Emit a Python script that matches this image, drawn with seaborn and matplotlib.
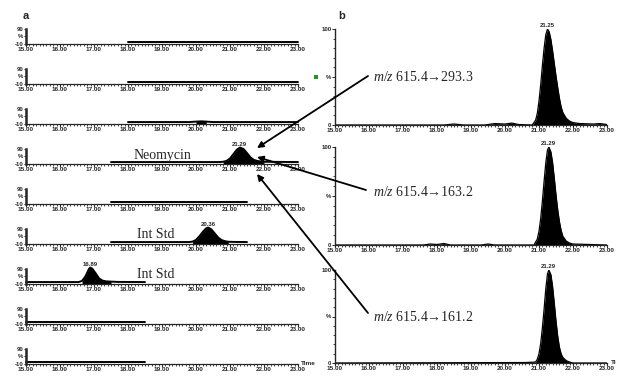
import numpy as np
import pandas as pd
import matplotlib
matplotlib.use('Agg')
import matplotlib.pyplot as plt
import seaborn as sns
from matplotlib.patches import FancyArrowPatch, Rectangle
from matplotlib.ticker import MultipleLocator

sns.set_style('ticks')
plt.rcParams['font.family'] = ['Liberation Sans', 'DejaVu Sans']
plt.rcParams['mathtext.fontset'] = 'custom'
plt.rcParams['mathtext.rm'] = 'Liberation Serif'
plt.rcParams['mathtext.it'] = 'Liberation Serif:italic'

SERIF = ['Liberation Serif', 'DejaVu Serif']

# --- data ---
x_ticks = [15, 16, 17, 18, 19, 20, 21, 22, 23]

# panel a: acquisition window of each of the 9 traces (min)
left_start = [18.0, 18.0, 18.0, 17.5, 17.5, 17.5, 15.0, 15.0, 15.0]
left_end = [23.0, 23.0, 23.0, 23.0, 21.5, 21.5, 18.5, 18.5, 18.5]

bump_t = [19.8, 20.0, 20.15, 20.3, 20.5]
bump_y = [0, 3, 5, 3, 0]

neo_t = [20.70, 20.80, 20.90, 21.00, 21.10, 21.20, 21.29, 21.40, 21.50, 21.60, 21.70, 21.80, 21.90, 22.00]
neo_y = [0, 2, 8, 25, 55, 85, 100, 90, 62, 33, 15, 8, 4, 2]

istd1_t = [19.80, 19.90, 20.00, 20.10, 20.20, 20.30, 20.36, 20.45, 20.55, 20.65, 20.75, 20.85, 20.95, 21.10]
istd1_y = [0, 3, 15, 40, 70, 95, 100, 88, 60, 32, 14, 6, 2, 1]

istd2_t = [16.55, 16.65, 16.75, 16.85, 16.89, 16.95, 17.05, 17.15, 17.25, 17.35, 17.50, 17.70]
istd2_y = [0, 8, 40, 90, 100, 92, 60, 25, 10, 5, 3, 1]

left_peaks = {2: (bump_t, bump_y, None), 3: (neo_t, neo_y, '21.29'),
              5: (istd1_t, istd1_y, '20.36'), 6: (istd2_t, istd2_y, '16.89')}
left_names = {3: 'Neomycin', 5: 'Int Std', 6: 'Int Std'}

# panel b: three transitions
b1_t = [15.0, 18.2, 18.5, 18.8, 19.4, 19.7, 20.0, 20.2, 20.4, 20.80, 20.90, 20.95, 21.00, 21.05, 21.10,
        21.15, 21.20, 21.25, 21.30, 21.35, 21.40, 21.45, 21.50, 21.55, 21.60, 21.65, 21.70, 21.80,
        21.90, 22.00, 22.20, 22.6, 22.8, 23.0]
b1_y = [0, 0, 1, 0, 0, 1.5, 1, 2, 0.5, 0, 5, 12, 25, 42, 62, 80, 94, 100, 97, 89, 77, 64, 51, 39,
        28, 19, 13, 7, 4, 2.5, 1.5, 1, 1.5, 0.5]
b2_t = [15.0, 17.6, 17.8, 18.0, 18.2, 18.4, 19.3, 19.5, 19.7, 20.85, 20.95, 21.00, 21.05, 21.10,
        21.15, 21.20, 21.25, 21.29, 21.35, 21.40, 21.45, 21.50, 21.55, 21.60, 21.65, 21.70, 21.80,
        21.90, 22.00, 22.5, 23.0]
b2_y = [0, 0, 1, 0.5, 1.5, 0, 0, 1, 0, 0, 6, 14, 27, 45, 65, 84, 97, 100, 95, 84, 68, 51, 36, 24,
        15, 9, 4, 2, 1, 0.5, 0]
b3_t = [15.0, 20.6, 20.90, 20.95, 21.00, 21.05, 21.10, 21.15, 21.20, 21.25, 21.29, 21.35, 21.40,
        21.45, 21.50, 21.55, 21.60, 21.65, 21.70, 21.80, 21.90, 22.00, 23.0]
b3_y = [0, 0.5, 1, 4, 10, 21, 38, 58, 80, 96, 100, 95, 82, 64, 45, 29, 17, 10, 6, 2.5, 1, 0, 0]

right_traces = [(b1_t, b1_y, '21.25', r'$\mathit{m/z}$ 615.4→293.3'),
                (b2_t, b2_y, '21.29', r'$\mathit{m/z}$ 615.4→163.2'),
                (b3_t, b3_y, '21.29', r'$\mathit{m/z}$ 615.4→161.2')]

# --- layout in pixels ---
W, H = 618, 377
fig = plt.figure(figsize=(W / 100, H / 100), dpi=100)


def add_ax(left, top, right, bottom):
    return fig.add_axes([left / W, 1 - bottom / H, (right - left) / W, (bottom - top) / H])


def fx(x):
    return x / W


def fy(y):
    return 1 - y / H


def style_x(ax):
    ax.set_xlim(15, 23)
    ax.set_xticks(x_ticks)
    ax.set_xticklabels([f'{v:.2f}' for v in x_ticks], fontsize=4.6, fontweight='bold')
    ax.xaxis.set_minor_locator(MultipleLocator(0.1))
    ax.tick_params(axis='x', which='major', length=2.2, width=0.8, pad=0.3)
    ax.tick_params(axis='x', which='minor', length=1.4, width=0.6)
    for s in ['top', 'right']:
        ax.spines[s].set_visible(False)
    ax.spines['bottom'].set_linewidth(0.9)
    ax.set_facecolor('none')


# panel a
for i in range(9):
    base = 43.5 + 40 * i
    ax = add_ax(26, base - 14.5, 298, base)
    ax.set_ylim(-10, 90)
    style_x(ax)
    ax.set_yticks([-10, 40, 90])
    ax.set_yticklabels(['-10', '%', '90'], fontsize=4.3, fontweight='bold')
    ax.tick_params(axis='y', length=1.5, width=0.7, pad=0.3)
    ax.spines['left'].set_linewidth(1.8)
    t = [left_start[i], left_end[i]]
    y = [0, 0]
    lab = None
    if i in left_peaks:
        pt, py, lab = left_peaks[i]
        t = t + pt
        y = y + py
    df = pd.DataFrame({'t': t, 'y': y}).sort_values('t')
    df = df[(df.t >= left_start[i]) & (df.t <= left_end[i])]
    ax.fill_between(df.t, -10 + 0 * df.y, df.y, where=df.y > 1, color='black', lw=0, clip_on=False)
    sns.lineplot(data=df, x='t', y='y', ax=ax, color='black', lw=1.4, sort=False,
                 estimator=None, clip_on=False)
    ax.set_xlabel('')
    ax.set_ylabel('')
    if lab:
        pk = df.loc[df.y.idxmax()]
        ax.text(pk.t, pk.y + 3, lab, fontsize=4.3, fontweight='bold', ha='center', va='bottom')
    if i == 8:
        ax.text(23.1, -10, 'Time', fontsize=4.6, fontweight='bold', ha='left', va='center', clip_on=False)

for i, name in left_names.items():
    base = 43.5 + 40 * i
    xpos = 134 if name == 'Neomycin' else 137
    fig.text(fx(xpos), fy(base - 8.5), name, fontsize=10, family=SERIF, ha='left', va='center')

# panel b
right_boxes = [(29, 125), (147, 245), (270, 363)]
for (top, bottom), (t, y, lab, mz) in zip(right_boxes, right_traces):
    ax = add_ax(335, top, 607, bottom)
    ax.set_ylim(0, 100)
    style_x(ax)
    ax.set_yticks([0, 50, 100])
    ax.set_yticklabels(['0', '%', '100'], fontsize=4.3, fontweight='bold')
    ax.yaxis.set_minor_locator(MultipleLocator(10))
    ax.tick_params(axis='y', which='major', length=2.2, width=0.7, pad=0.3)
    ax.tick_params(axis='y', which='minor', length=1.4, width=0.6)
    ax.spines['left'].set_linewidth(1.0)
    df = pd.DataFrame({'t': t, 'y': y})
    ax.fill_between(df.t, 0, df.y, color='black', lw=0)
    sns.lineplot(data=df, x='t', y='y', ax=ax, color='black', lw=0.9, sort=False, estimator=None)
    ax.set_xlabel('')
    ax.set_ylabel('')
    pk = df.loc[df.y.idxmax()]
    ax.text(pk.t, pk.y + 1, lab, fontsize=4.3, fontweight='bold', ha='center', va='bottom')
    if bottom == 363:
        ax.text(23.12, 0, 'Ti', fontsize=4.6, fontweight='bold', ha='left', va='center', clip_on=False)

# m/z labels and arrows to the neomycin peak
mz_y = [77, 192, 317]
tips = [(257, 148), (257, 157), (257, 174)]
tails = [(368, 76), (366, 190), (368, 313)]
for (_, _, _, mz), yy in zip(right_traces, mz_y):
    fig.text(fx(373), fy(yy), mz, fontsize=10, family=SERIF, ha='left', va='center')
for tip, tail in zip(tips, tails):
    arr = FancyArrowPatch((fx(tail[0]), fy(tail[1])), (fx(tip[0]), fy(tip[1])),
                          transform=fig.transFigure, arrowstyle='-|>', mutation_scale=9,
                          lw=1.3, color='black', shrinkA=0, shrinkB=0)
    fig.add_artist(arr)

fig.add_artist(Rectangle((fx(314), fy(79)), 4 / W, 4 / H, transform=fig.transFigure,
                         color='#1f9a1f', lw=0))

fig.text(fx(26), fy(16), 'a', fontsize=8, fontweight='bold', ha='center', va='center')
fig.text(fx(342), fy(16), 'b', fontsize=8, fontweight='bold', ha='center', va='center')

fig.savefig('out.png', dpi=100)
